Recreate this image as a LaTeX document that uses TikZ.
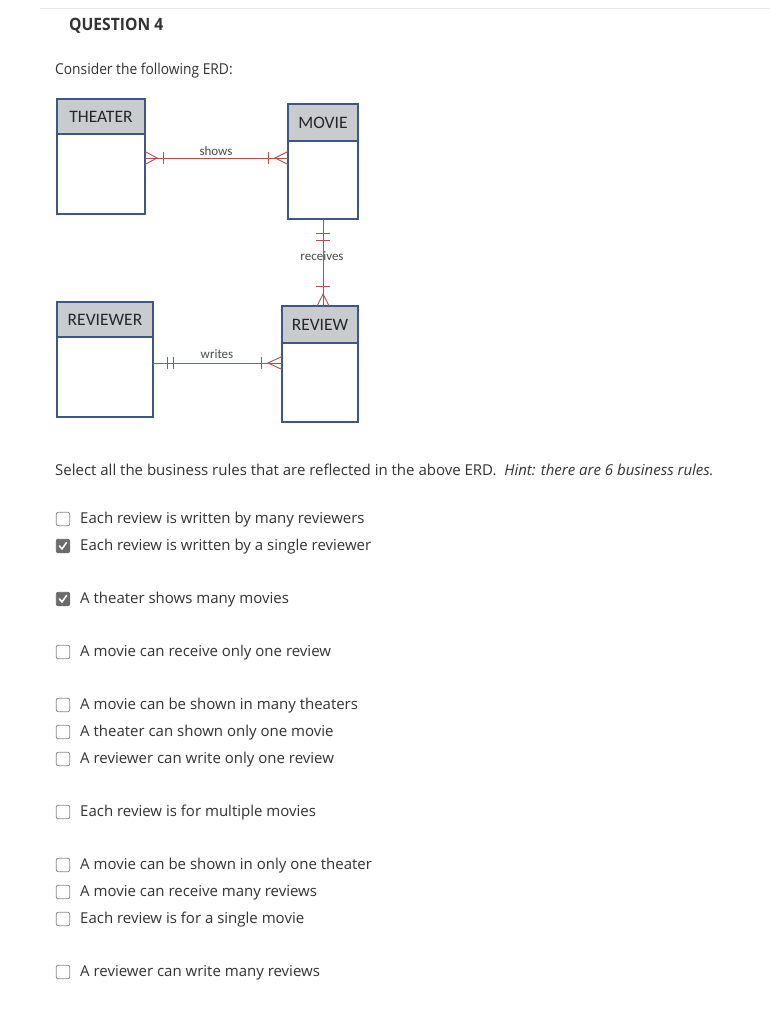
\documentclass[tikz,border=0pt]{standalone}
\usepackage{fontspec}
\setmainfont{Open Sans}
\newfontfamily\erdfont{Carlito}
\newfontfamily\topfont[FakeStretch=0.92]{Open Sans}
\usetikzlibrary{positioning}
\definecolor{Frame}{HTML}{3E5784}
\definecolor{Head}{HTML}{C9CCCF}
\definecolor{Rel}{HTML}{B0524C}
\definecolor{Ink}{HTML}{333333}
\definecolor{BoxLine}{HTML}{8C8C8C}
\definecolor{Tick}{HTML}{6B6B6B}
\definecolor{Rule}{HTML}{E6E6E6}

\begin{document}
\begin{tikzpicture}[x=1pt,y=-1pt,
    head/.style={draw=Frame,fill=Head,line width=1.1pt,outer sep=0pt,inner sep=0pt,
                 font=\erdfont\fontsize{17.5}{19}\selectfont,text=black!85},
    body/.style={draw=Frame,fill=white,line width=1.1pt,outer sep=0pt,inner sep=0pt},
    rel/.style={Rel,line width=.9pt},
    lbl/.style={font=\erdfont\fontsize{13}{15}\selectfont,text=black!70,inner sep=1pt},
    opt/.style={anchor=west,font=\fontsize{15}{18}\selectfont,text=Ink,inner sep=0pt,yshift=-1pt},
    cb/.style={draw=BoxLine,rounded corners=2pt,minimum size=13.5pt,inner sep=0pt,line width=.8pt},
    cbon/.style={cb,fill=Tick,draw=Tick},
    tick/.style={white,line width=1.6pt,line cap=round,line join=round}
  ]
    \useasboundingbox[fill=white] (0,0) rectangle (770,1024);
    \draw[Rule] (40,8) -- (770,8);

    \node[anchor=west,inner sep=0pt,font=\topfont\bfseries\fontsize{17}{20}\selectfont,text=Ink] (q) at (69,26) {QUESTION 4};
    \node[opt,font=\topfont\fontsize{15}{18}\selectfont] (intro) at (55,70) {Consider the following ERD:};

    % entities
    \node[head,anchor=north west,minimum width=88pt,minimum height=35pt] (thh) at (57,99) {THEATER};
    \node[body,below=0pt of thh,minimum width=88pt,minimum height=80pt] (thb) {};
    \node[head,anchor=north west,minimum width=70pt,minimum height=37pt] (mvh) at (288,104) {MOVIE};
    \node[body,below=0pt of mvh,minimum width=70pt,minimum height=78pt] (mvb) {};
    \node[head,anchor=north west,minimum width=96pt,minimum height=35pt] (rrh) at (57,302) {REVIEWER};
    \node[body,below=0pt of rrh,minimum width=96pt,minimum height=80pt] (rrb) {};
    \node[head,anchor=north west,minimum width=76pt,minimum height=37pt] (rwh) at (282,306) {REVIEW};
    \node[body,below=0pt of rwh,minimum width=76pt,minimum height=79pt] (rwb) {};

    % shows
    \draw[rel] (thb.east |- 0,158) coordinate (s1) -- (mvb.west |- 0,158) coordinate (s2);
    \node[lbl] (shows) at (216,151) {shows};
    \draw[rel] ([yshift=6.5pt]s1) -- ([xshift=12pt]s1) -- ([yshift=-6.5pt]s1);
    \draw[rel] ([xshift=18pt,yshift=6pt]s1) -- ([xshift=18pt,yshift=-6pt]s1);
    \draw[rel] ([yshift=6.5pt]s2) -- ([xshift=-13pt]s2) -- ([yshift=-6.5pt]s2);
    \draw[rel] ([xshift=-20pt,yshift=6pt]s2) -- ([xshift=-20pt,yshift=-6pt]s2);

    % receives
    \draw[rel] (mvb.south) coordinate (r1) -- (rwh.north -| mvb.south) coordinate (r2);
    \node[lbl] (receives) at (322,256) {receives};
    \draw[rel] ([xshift=-7pt,yshift=-14pt]r1) -- ([xshift=7pt,yshift=-14pt]r1);
    \draw[rel] ([xshift=-7pt,yshift=-21pt]r1) -- ([xshift=7pt,yshift=-21pt]r1);
    \draw[rel] ([xshift=-7pt,yshift=20pt]r2) -- ([xshift=7pt,yshift=20pt]r2);
    \draw[rel] ([xshift=-6pt]r2) -- ([yshift=12pt]r2) -- ([xshift=6pt]r2);

    % writes
    \draw[rel] (rrb.east |- 0,363) coordinate (w1) -- (rwb.west |- 0,363) coordinate (w2);
    \node[lbl] (writes) at (217,354) {writes};
    \draw[rel] ([xshift=14pt,yshift=6pt]w1) -- ([xshift=14pt,yshift=-6pt]w1);
    \draw[rel] ([xshift=20pt,yshift=6pt]w1) -- ([xshift=20pt,yshift=-6pt]w1);
    \draw[rel] ([xshift=-21pt,yshift=6pt]w2) -- ([xshift=-21pt,yshift=-6pt]w2);
    \draw[rel] ([yshift=6.5pt]w2) -- ([xshift=-14pt]w2) -- ([yshift=-6.5pt]w2);

    \node[opt] (task) at (55,469) {Select all the business rules that are reflected in the above ERD.\ \ \textit{Hint: there are 6 business rules.}};

    % options
    \node[cb] (c1) at (63,519) {};   \node[opt] (o1) at (80,519) {Each review is written by many reviewers};
    \node[cbon] (c2) at (63,546) {}; \node[opt] (o2) at (80,546) {Each review is written by a single reviewer};
    \node[cbon] (c3) at (63,599) {}; \node[opt] (o3) at (80,599) {A theater shows many movies};
    \node[cb] (c4) at (63,652) {};   \node[opt] (o4) at (80,652) {A movie can receive only one review};
    \node[cb] (c5) at (63,705) {};   \node[opt] (o5) at (80,705) {A movie can be shown in many theaters};
    \node[cb] (c6) at (63,732) {};   \node[opt] (o6) at (80,732) {A theater can shown only one movie};
    \node[cb] (c7) at (63,759) {};   \node[opt] (o7) at (80,759) {A reviewer can write only one review};
    \node[cb] (c8) at (63,812) {};   \node[opt] (o8) at (80,812) {Each review is for multiple movies};
    \node[cb] (c9) at (63,865) {};   \node[opt] (o9) at (80,865) {A movie can be shown in only one theater};
    \node[cb] (c10) at (63,892) {};  \node[opt] (o10) at (80,892) {A movie can receive many reviews};
    \node[cb] (c11) at (63,919) {};  \node[opt] (o11) at (80,919) {Each review is for a single movie};
    \node[cb] (c12) at (63,972) {};  \node[opt] (o12) at (80,972) {A reviewer can write many reviews};
    \draw[tick] ([shift={(-3.5,0)}]c2.center) -- ++(2.5,3) -- ++(4.5,-6.5);
    \draw[tick] ([shift={(-3.5,0)}]c3.center) -- ++(2.5,3) -- ++(4.5,-6.5);
  \end{tikzpicture}
\end{document}
